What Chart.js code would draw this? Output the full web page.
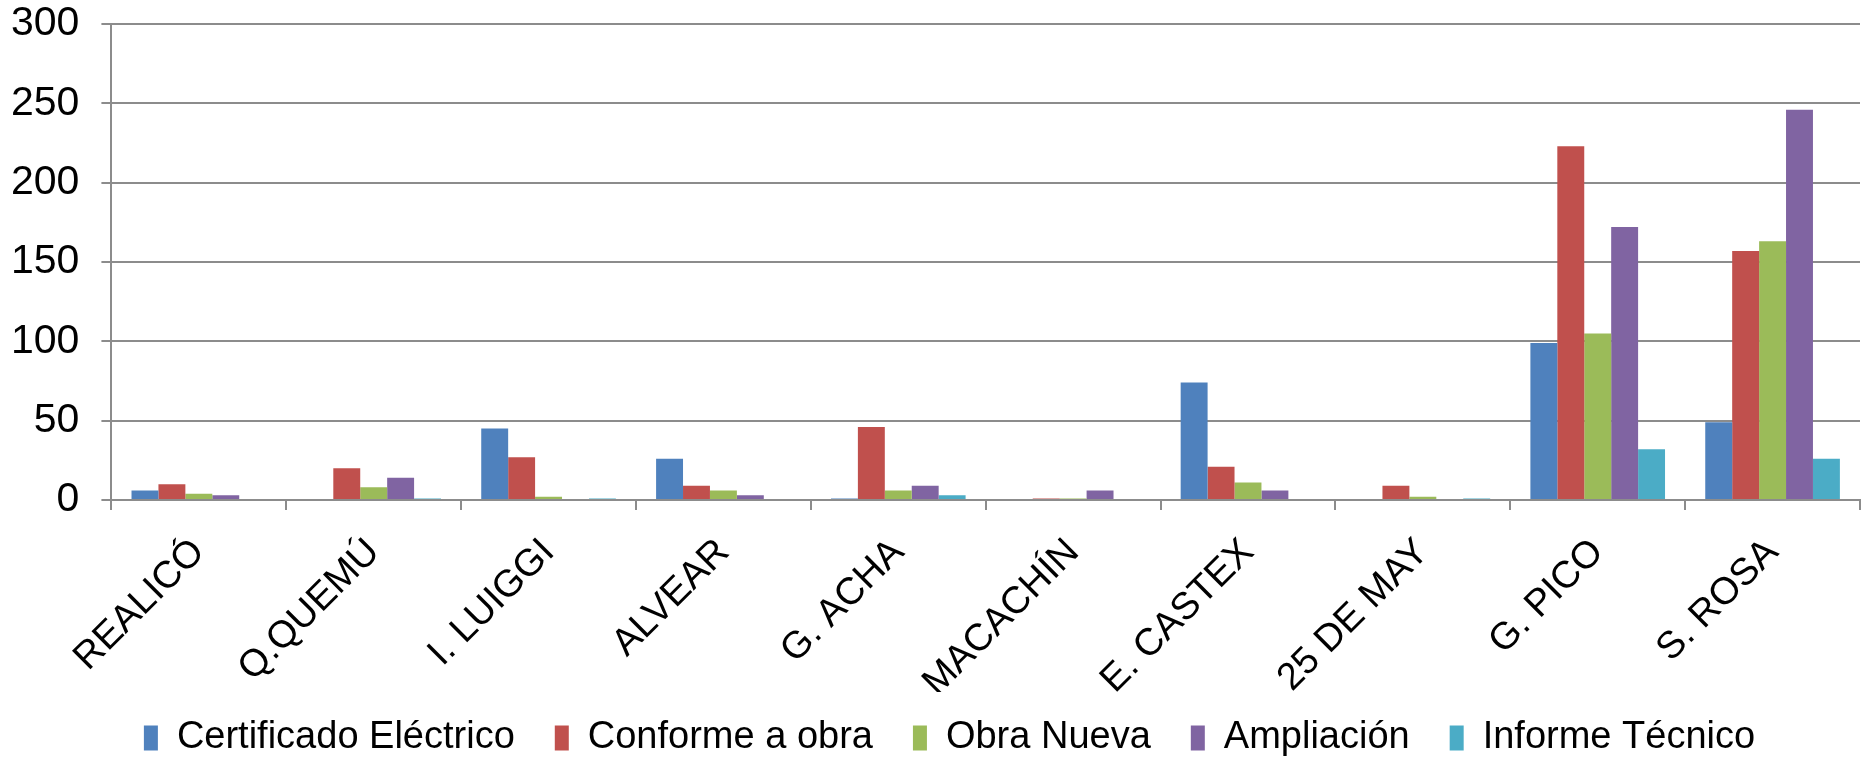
<!DOCTYPE html>
<html>
<head>
<meta charset="utf-8">
<script src="https://cdn.jsdelivr.net/npm/chart.js@4.4.1/dist/chart.umd.min.js"></script>
<style>
  html, body { margin: 0; padding: 0; background: #fff; }
  #wrap { width: 1862px; height: 760px; }
</style>
</head>
<body>
<div id="wrap"><canvas id="chart"></canvas></div>
<script>
const localidades = ["REALICÓ", "Q.QUEMÚ", "I. LUIGGI", "ALVEAR", "G. ACHA", "MACACHÍN", "E. CASTEX", "25 DE MAY", "G. PICO", "S. ROSA"];

const certificadoElectrico = [6, 0, 45, 26, 1, 0, 74, 0, 99, 49];
const conformeAObra = [10, 20, 27, 9, 46, 1, 21, 9, 223, 157];
const obraNueva = [4, 8, 2, 6, 6, 1, 11, 2, 105, 163];
const ampliacion = [3, 14, 0, 3, 9, 6, 6, 0, 172, 246];
const informeTecnico = [0, 1, 1, 0, 3, 0, 0, 1, 32, 26];

const yTicks = [0, 50, 100, 150, 200, 250, 300];

const font = "'Liberation Sans', Arial, sans-serif";
const gridColor = "#8c8c8c";

// pull the legend up closer to the rotated labels, and a touch right
const legendNudge = {
  id: "legendNudge",
  afterLayout(chart) {
    const lg = chart.legend;
    if (!lg) return;
    lg.top -= 13;
    lg.bottom -= 13;
    lg.left += 25;
    lg.right += 25;
  },
};

new Chart(document.getElementById("chart"), {
  type: "bar",
  data: {
    labels: localidades,
    datasets: [
      { label: "Certificado Eléctrico", data: certificadoElectrico, backgroundColor: "#4F81BD" },
      { label: "Conforme a obra", data: conformeAObra, backgroundColor: "#C0504D" },
      { label: "Obra Nueva", data: obraNueva, backgroundColor: "#9BBB59" },
      { label: "Ampliación", data: ampliacion, backgroundColor: "#8064A2" },
      { label: "Informe Técnico", data: informeTecnico, backgroundColor: "#4BACC6" },
    ],
  },
  options: {
    responsive: true,
    maintainAspectRatio: false,
    animation: false,
    datasets: {
      bar: { categoryPercentage: 0.77, barPercentage: 1 },
    },
    layout: { padding: { left: -11, right: 2, top: 24, bottom: -20 } },
    plugins: {
      tooltip: { enabled: false },
      legend: {
        position: "bottom",
        labels: {
          font: { family: font, size: 38 },
          color: "#000",
          boxWidth: 14,
          boxHeight: 25,
          padding: 40,
        },
      },
    },
    scales: {
      x: {
        afterFit: (scale) => {
          scale.height = 192;
          scale.paddingLeft = 0;
        },
        grid: {
          offset: true,
          drawOnChartArea: false,
          drawTicks: true,
          tickLength: 10,
          color: gridColor,
          lineWidth: 2,
        },
        border: { color: gridColor, width: 2 },
        ticks: {
          color: "#000",
          font: { family: font, size: 38 },
          minRotation: 45,
          maxRotation: 45,
          padding: 20,
          autoSkip: false,
        },
      },
      y: {
        min: 0,
        max: 300,
        afterBuildTicks: (axis) => {
          axis.ticks = yTicks.map((v) => ({ value: v }));
        },
        afterFit: (scale) => {
          scale.paddingTop = 0;
        },
        grid: {
          color: gridColor,
          lineWidth: 2,
          tickLength: 10,
        },
        border: { color: gridColor, width: 2 },
        ticks: {
          color: "#000",
          font: { family: font, size: 41 },
          padding: 22,
        },
      },
    },
  },
  plugins: [legendNudge],
});
</script>
</body>
</html>
